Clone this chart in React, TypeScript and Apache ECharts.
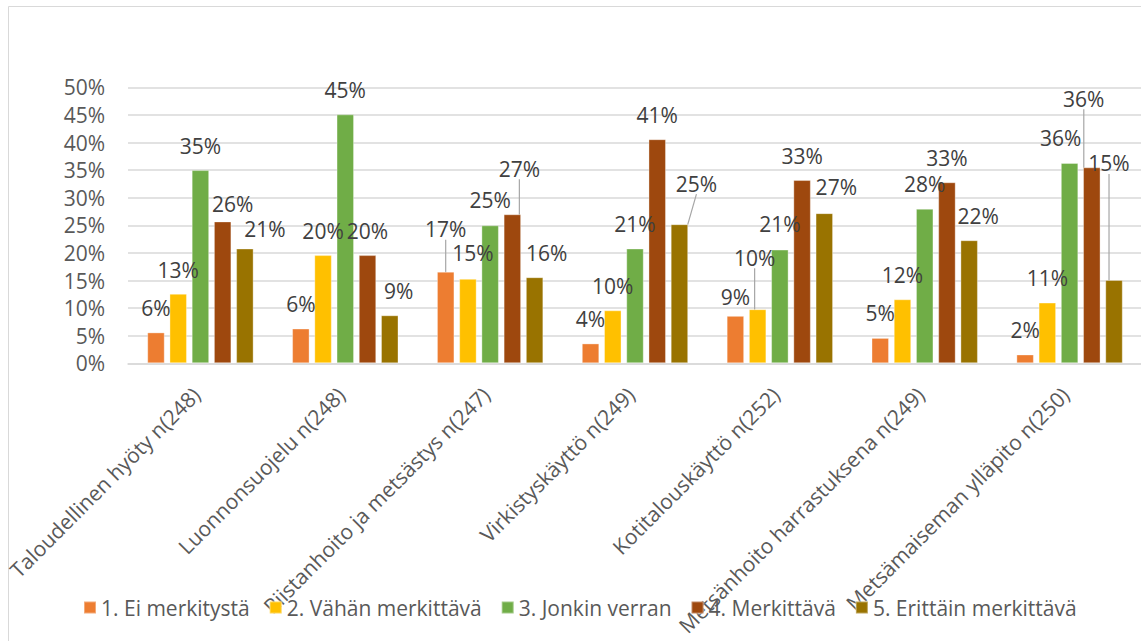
import React, { useEffect, useRef } from 'react';
import * as echarts from 'echarts';

const categories = [
  'Taloudellinen hyöty n(248)',
  'Luonnonsuojelu n(248)',
  'Riistanhoito ja metsästys n(247)',
  'Virkistyskäyttö n(249)',
  'Kotitalouskäyttö n(252)',
  'Metsänhoito harrastuksena n(249)',
  'Metsämaiseman ylläpito n(250)',
];

const seriesNames = [
  '1. Ei merkitystä',
  '2. Vähän merkittävä',
  '3. Jonkin verran',
  '4. Merkittävä',
  '5. Erittäin merkittävä',
];

const eiMerkitysta = [5.6, 6.3, 16.6, 3.6, 8.6, 4.6, 1.6];
const vahanMerkittava = [12.6, 19.6, 15.3, 9.6, 9.8, 11.6, 11.0];
const jonkinVerran = [35.0, 45.1, 25.0, 20.8, 20.6, 28.0, 36.3];
const merkittava = [25.7, 19.6, 27.0, 40.6, 33.2, 32.8, 35.5];
const erittainMerkittava = [20.8, 8.7, 15.6, 25.2, 27.2, 22.3, 15.1];

const yTicks = { min: 0, max: 50, interval: 5 };

// label displacement (px) relative to default outside-end position, per series
const labelDx = [
  [0, 0, 0, 0, 0, 0, 0],
  [0, 0, 5, 0, -3, 0, 0],
  [0, 0, 0, 0, 0, 0, -9],
  [10, 0, 7, 0, 0, 0, -8],
  [20, 9, 12, 17, 12, 9, -5],
];
const labelDy = [
  [0, 0, -18, 0, 6, 0, 0],
  [1, 0, -1, 0, -27, 0, 0],
  [0, 0, -1, 0, -1, 0, 0],
  [7, 0, -21, 0, 0, 0, -44],
  [5, 0, 0, -16, -2, 0, -92],
];
// [seriesIndex, categoryIndex] labels drawn with a leader line
const leaderLines = [
  [0, 2],
  [3, 2],
  [4, 3],
  [1, 4],
  [3, 6],
  [4, 6],
];

const colors = ['#ED7D31', '#FFC000', '#70AD47', '#9E480E', '#997300'];

export default function App() {
  const ref = useRef<HTMLDivElement>(null);
  useEffect(() => {
    const chart = echarts.init(ref.current!, null, { renderer: 'svg' });
    const FONT = 'Open Sans';
    const FS = 21;
    const allValues = [eiMerkitysta, vahanMerkittava, jonkinVerran, merkittava, erittainMerkittava];
    const hasLeader = (s: number, c: number) => leaderLines.some(([a, b]) => a === s && b === c);
    const series = allValues.map((vals, s) => ({
      name: seriesNames[s],
      type: 'bar',
      barWidth: 17.5,
      barGap: '27%',
      itemStyle: { color: colors[s], borderColor: 'rgba(255,255,255,0.35)', borderWidth: 1 },
      label: {
        show: true,
        position: 'top',
        distance: 14,
        formatter: (p: any) => Math.round(p.value) + '%',
        color: '#404040',
        fontSize: FS,
        fontFamily: FONT,
      },
      labelLine: { show: false, lineStyle: { color: '#A6A6A6', width: 1.2 } },
      labelLayout: (p: any) => ({ dx: labelDx[s][p.dataIndex], dy: labelDy[s][p.dataIndex] }),
      data: vals.map((v, c) =>
        hasLeader(s, c)
          ? { value: v, labelLine: { show: true, lineStyle: { color: '#A6A6A6', width: 1.2 } } }
          : v
      ),
    }));

    chart.setOption({
      animation: false,
      color: colors,
      grid: {
        left: 128,
        right: -1,
        top: 87.3,
        bottom: 277.7,
        containLabel: false,
        outerBoundsMode: 'none',
      },
      legend: {
        left: 83,
        top: 597,
        padding: 0,
        icon: 'rect',
        itemWidth: 12,
        itemHeight: 12,
        itemGap: 19,
        textStyle: { fontSize: FS, color: '#595959', fontFamily: FONT },
        data: seriesNames,
      },
      xAxis: {
        type: 'category',
        data: categories,
        axisTick: { show: false },
        axisLine: { lineStyle: { color: '#D9D9D9', width: 1.5 } },
        axisLabel: {
          rotate: 45,
          interval: 0,
          margin: 5,
          verticalAlign: 'top',
          lineHeight: 26,
          color: '#595959',
          fontSize: FS,
          fontFamily: FONT,
          formatter: (v: string) => v + '{sp|}',
          rich: { sp: { width: 19 } },
        },
      },
      yAxis: {
        type: 'value',
        min: yTicks.min,
        max: yTicks.max,
        interval: yTicks.interval,
        axisLine: { show: false },
        axisTick: { show: false },
        splitLine: { lineStyle: { color: '#D9D9D9', width: 1.5 } },
        axisLabel: {
          formatter: '{value}%',
          margin: 23,
          color: '#595959',
          fontSize: FS,
          fontFamily: FONT,
        },
      },
      graphic: [
        {
          type: 'rect',
          silent: true,
          z: -10,
          shape: { x: 8.5, y: 6.5, width: 1200, height: 700 },
          style: { fill: 'none', stroke: '#D9D9D9', lineWidth: 1 },
        },
      ],
      series,
    });
    return () => chart.dispose();
  }, []);
  return (
    <div
      ref={ref}
      style={{ position: 'fixed', left: 0, top: 0, width: 1141, height: 641, background: '#fff' }}
    />
  );
}
